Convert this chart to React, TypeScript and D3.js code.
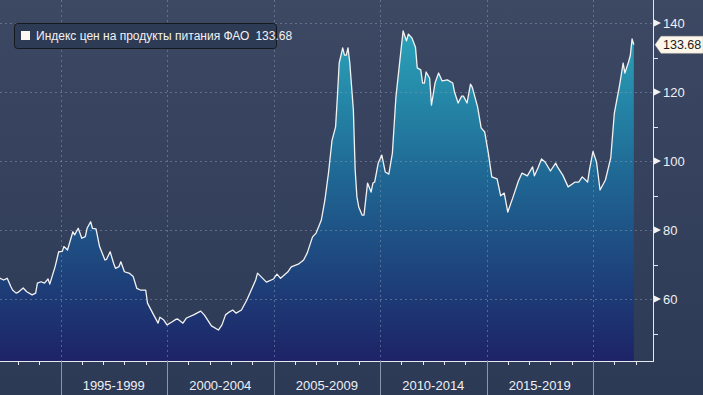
import React from "react";
import * as d3 from "d3";

const dates: string[] = [
  "1992-01","1992-03","1992-05","1992-07","1992-09","1992-10","1992-12",
  "1993-01","1993-04","1993-06","1993-09","1993-11","1993-12",
  "1994-02","1994-04","1994-06","1994-07","1994-10","1994-12",
  "1995-02","1995-03","1995-05","1995-08","1995-09","1995-11",
  "1996-01","1996-03","1996-04","1996-06","1996-07","1996-09","1996-11",
  "1997-02","1997-03","1997-05","1997-07","1997-08","1997-10","1997-11",
  "1998-01","1998-04","1998-06","1998-08","1998-10",
  "1999-01","1999-02","1999-05","1999-08","1999-09","1999-11",
  "2000-01","2000-04","2000-06","2000-07","2000-10","2000-12",
  "2001-04","2001-08","2001-10",
  "2002-02","2002-06","2002-08","2002-10","2002-12",
  "2003-02","2003-04","2003-07","2003-10","2003-12",
  "2004-03","2004-04","2004-09",
  "2005-01","2005-03","2005-05","2005-09","2005-11",
  "2006-03","2006-06","2006-08","2006-11",
  "2007-01","2007-04","2007-06","2007-08","2007-10","2007-12",
  "2008-01","2008-02","2008-04","2008-05","2008-06","2008-07","2008-08","2008-10","2008-11","2008-12",
  "2009-01","2009-03","2009-04","2009-06","2009-08","2009-09","2009-10","2009-12",
  "2010-02","2010-04","2010-06","2010-08","2010-10",
  "2011-01","2011-02","2011-04","2011-05","2011-07","2011-09","2011-10","2011-12",
  "2012-01","2012-02","2012-03","2012-05","2012-06","2012-08","2012-10","2012-12",
  "2013-03","2013-06","2013-07","2013-09","2013-11","2013-12",
  "2014-02","2014-04","2014-05","2014-08","2014-10","2014-12",
  "2015-02","2015-04","2015-07","2015-09","2015-11",
  "2016-01","2016-04","2016-07","2016-09","2016-12",
  "2017-03","2017-04","2017-06","2017-08","2017-10",
  "2018-01","2018-04","2018-05","2018-08","2018-11",
  "2019-03","2019-05","2019-07","2019-10","2019-11",
  "2020-01","2020-03","2020-05","2020-08","2020-11",
  "2021-01","2021-04","2021-06","2021-07","2021-09","2021-10","2021-11","2021-12",
];

const values: number[] = [
  66.5,66.0,65.5,66.0,63.6,62.6,61.7,
  61.9,63.2,62.1,61.2,61.7,64.6,
  65.0,64.6,65.8,64.3,69.4,73.7,
  73.8,75.2,74.2,79.5,78.6,80.5,
  77.6,78.1,80.5,82.4,80.5,80.3,75.2,
  71.3,71.5,73.7,70.3,68.9,69.4,70.8,
  67.9,67.4,66.5,63.1,62.6,
  62.6,58.8,55.9,53.0,54.7,54.0,
  52.5,53.4,54.1,54.2,53.0,54.5,
  55.4,56.5,55.4,
  52.2,51.0,52.5,55.4,56.2,
  56.8,55.9,56.8,59.7,62.0,
  65.5,67.5,64.9,
  65.8,67.2,66.0,67.8,69.3,
  70.1,71.3,73.3,78.0,
  79.1,82.9,88.7,96.5,106.0,109.9,
  118.6,128.4,132.8,130.7,130.7,132.8,128.4,114.8,97.4,89.6,
  86.7,84.3,84.3,93.6,91.0,93.6,93.9,99.4,
  101.7,96.8,96.2,102.3,118.6,
  133.0,137.7,134.8,136.8,135.7,133.0,127.0,126.4,
  122.6,122.6,125.8,124.0,116.2,122.6,125.5,123.2,
  123.5,122.6,120.0,116.8,118.8,118.8,
  116.8,122.3,121.4,115.7,109.6,108.4,
  102.3,95.4,94.8,89.9,90.7,
  85.2,89.6,94.2,96.5,95.7,
  98.3,95.7,98.0,100.6,99.7,
  97.1,99.4,98.3,95.9,92.5,
  93.9,93.9,95.4,93.9,97.4,
  102.8,99.7,91.6,94.5,101.0,
  113.9,122.0,128.4,125.5,128.7,130.5,135.4,133.68,
];

const periodLabels: string[] = ["1995-1999", "2000-2004", "2005-2009", "2010-2014", "2015-2019"];
const periodStarts: number[] = [1995, 2000, 2005, 2010, 2015, 2020];
const yearTicks: number[] = d3.range(1993, 2023);
const majorY: number[] = [140, 120, 100, 80, 60];
const minorY: number[] = [130, 110, 90, 70, 50];
const seriesName = "Индекс цен на продукты питания ФАО";
const lastLabel = "133.68";

const W = 703;
const H = 395;
const axisX = 653;
const plotBottom = 361;

export default function App() {
  const parse = d3.timeParse("%Y-%m");
  const data = dates.map((d, i) => ({ date: parse(d) as Date, value: values[i] }));

  const x = d3
    .scaleTime()
    .domain([new Date(1995, 0, 1), new Date(2020, 0, 1)])
    .range([60.5, 593]);
  const y = d3.scaleLinear().domain([60, 140]).range([299, 23]);

  const area = d3
    .area<{ date: Date; value: number }>()
    .x((d) => x(d.date))
    .y0(plotBottom)
    .y1((d) => y(d.value));
  const line = d3
    .line<{ date: Date; value: number }>()
    .x((d) => x(d.date))
    .y((d) => y(d.value));

  const last = data[data.length - 1];
  const lastY = y(last.value);
  const font = "'Liberation Sans', Arial, sans-serif";

  return (
    <svg
      width={W}
      height={H}
      style={{ position: "absolute", left: 0, top: 0, display: "block" }}
      fontFamily={font}
    >
      <defs>
        <linearGradient id="bg" x1="0" y1="0" x2="0" y2={H} gradientUnits="userSpaceOnUse">
          <stop offset="0" stopColor="#3d4863" />
          <stop offset="1" stopColor="#2c3a56" />
        </linearGradient>
        <linearGradient id="fill" x1="0" y1="30" x2="0" y2={plotBottom} gradientUnits="userSpaceOnUse">
          <stop offset="0" stopColor="#2aa3b9" />
          <stop offset="0.45" stopColor="#1f6693" />
          <stop offset="1" stopColor="#1d2366" />
        </linearGradient>
        <clipPath id="plot">
          <rect x={0} y={0} width={axisX} height={plotBottom} />
        </clipPath>
      </defs>
      <rect x={0} y={0} width={W} height={H} fill="url(#bg)" />

      <g clipPath="url(#plot)">
        <path d={area(data) || ""} fill="url(#fill)" />
      </g>

      {/* grid */}
      <g stroke="#8494b0" strokeOpacity={0.55} strokeDasharray="2,3" strokeWidth={1}>
        {majorY.map((v) => (
          <line key={"gy" + v} x1={0} x2={axisX} y1={Math.round(y(v)) + 0.5} y2={Math.round(y(v)) + 0.5} />
        ))}
        {periodStarts.map((yr) => {
          const px = Math.round(x(new Date(yr, 0, 1))) + 0.5;
          return <line key={"gx" + yr} x1={px} x2={px} y1={0} y2={plotBottom} />;
        })}
      </g>

      <g clipPath="url(#plot)">
        <path d={line(data) || ""} fill="none" stroke="#f2f2f2" strokeWidth={1.3} strokeLinejoin="round" />
      </g>

      {/* axes lines */}
      <line x1={0} x2={axisX} y1={plotBottom + 0.5} y2={plotBottom + 0.5} stroke="#e6e8ee" strokeWidth={1} />
      <line x1={axisX + 0.5} x2={axisX + 0.5} y1={0} y2={plotBottom + 1} stroke="#e6e8ee" strokeWidth={1} />

      {/* bottom axis */}
      {yearTicks.map((yr) => {
        const px = Math.round(x(new Date(yr, 0, 1))) + 0.5;
        return <line key={"yt" + yr} x1={px} x2={px} y1={plotBottom} y2={plotBottom + 4} stroke="#e6e8ee" />;
      })}
      {periodStarts.map((yr) => {
        const px = Math.round(x(new Date(yr, 0, 1))) + 0.5;
        return <line key={"ps" + yr} x1={px} x2={px} y1={plotBottom} y2={H} stroke="#8a96ab" />;
      })}
      {periodLabels.map((lab, i) => {
        const cx = (x(new Date(periodStarts[i], 0, 1)) + x(new Date(periodStarts[i + 1], 0, 1))) / 2;
        return (
          <text key={lab} x={cx} y={390} textAnchor="middle" fontSize={13} fill="#eef0f4">
            {lab}
          </text>
        );
      })}

      {/* right axis */}
      {majorY.map((v) => {
        const py = y(v);
        return (
          <g key={"ry" + v}>
            <path d={`M${axisX + 1},${py - 3.5}L${axisX + 8},${py}L${axisX + 1},${py + 3.5}Z`} fill="#f2f2f2" />
            <text x={axisX + 10} y={py + 4.5} fontSize={13} fill="#eef0f4">
              {v}
            </text>
          </g>
        );
      })}
      {minorY.map((v) => (
        <line key={"my" + v} x1={axisX} x2={axisX + 5} y1={Math.round(y(v)) + 0.5} y2={Math.round(y(v)) + 0.5} stroke="#e6e8ee" />
      ))}

      {/* last value label */}
      <g>
        <path
          d={`M${axisX + 2},${lastY}L${axisX + 8},${lastY - 8.5}L${W},${lastY - 8.5}L${W},${lastY + 8.5}L${axisX + 8},${lastY + 8.5}Z`}
          fill="#fdf6ea"
          stroke="#c9c2b4"
          strokeWidth={0.5}
        />
        <text x={axisX + 10} y={lastY + 4.5} fontSize={12.5} fill="#1a1a1a">
          {lastLabel}
        </text>
      </g>

      {/* legend */}
      <g>
        <rect x={14.5} y={23.5} width={262} height={25} rx={3} fill="#2e3b55" stroke="#14181f" strokeWidth={1} />
        <rect x={21} y={31} width={9} height={9} fill="#fdf6f2" />
        <text x={36} y={40} fontSize={12} fill="#f2f2f2">
          {seriesName}
          <tspan dx={6}>{lastLabel}</tspan>
        </text>
      </g>
    </svg>
  );
}
